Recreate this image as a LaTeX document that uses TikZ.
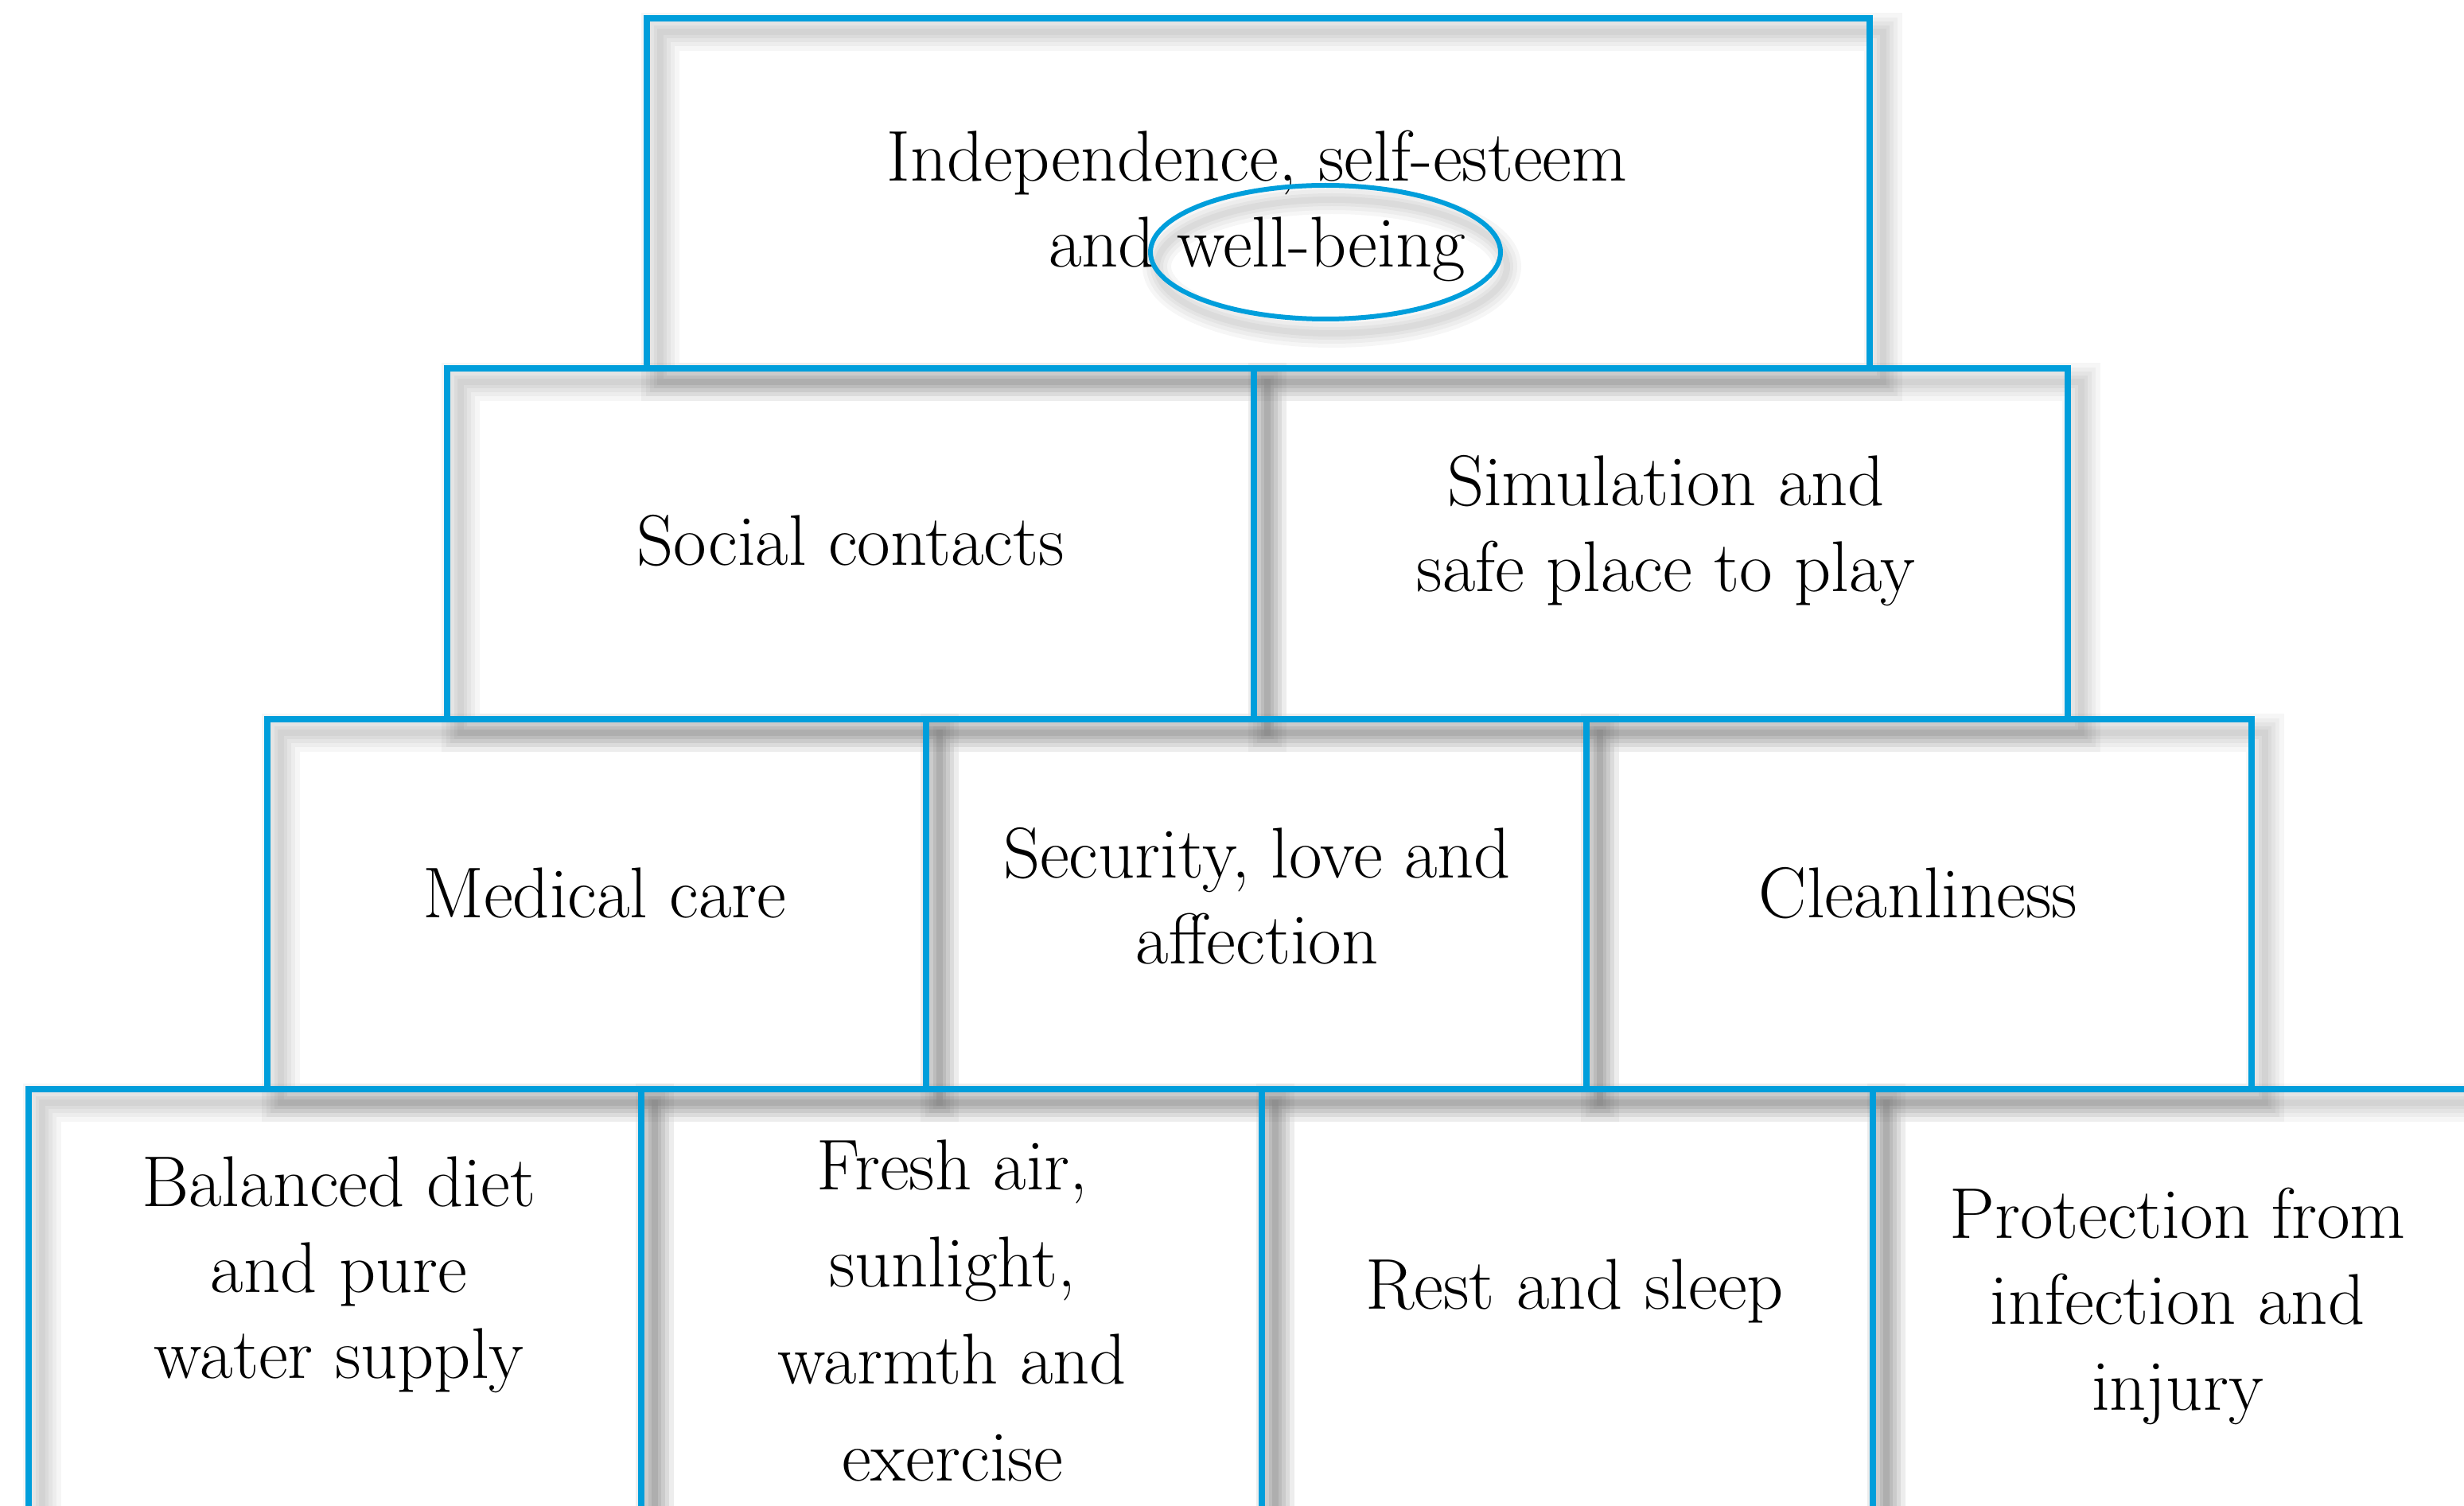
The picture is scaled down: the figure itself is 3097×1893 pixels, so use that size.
\documentclass[tikz,border=0pt]{standalone}
\usetikzlibrary{fit,shapes.geometric}
\definecolor{boxblue}{RGB}{0,158,219}
\pgfdeclarelayer{bg}
\pgfdeclarelayer{shadow}
\pgfsetlayers{bg,shadow,main}
\tikzset{
  tier/.style={rectangle, draw=boxblue, line width=2pt, inner sep=0pt, outer sep=0pt},
  txt/.style={align=center, inner sep=0pt, text=black, font=\fontsize{22.6}{27}\selectfont},
  ring/.style={ellipse, draw=boxblue, line width=1.5pt, inner sep=0pt, minimum width=110pt, minimum height=42pt},
  shadowpass/.style={black, draw opacity=0.034, line width=#1}
}
\begin{document}
\begin{tikzpicture}[x={(0.25pt,0)}, y={(0,-0.25pt)}]
\useasboundingbox (0,0) rectangle (3097,1893);
\clip (0,0) rectangle (3097,1893);
\begin{pgfonlayer}{bg}
\fill[white] (0,0) rectangle (3097,1893);
\end{pgfonlayer}

% boxes
\node[tier, fit={(813,23) (2350,463)}] (top) {};
\node[tier, fit={(562,463) (1576,904)}] (sa) {};
\node[tier, fit={(1576,463) (2599,904)}] (sb) {};
\node[tier, fit={(336,904) (1164,1369)}] (ma) {};
\node[tier, fit={(1164,904) (1994,1369)}] (mb) {};
\node[tier, fit={(1994,904) (2830,1369)}] (mc) {};
\node[tier, fit={(36,1369) (806,2000)}] (ba) {};
\node[tier, fit={(806,1369) (1586,2000)}] (bb) {};
\node[tier, fit={(1586,1369) (2354,2000)}] (bc) {};
\node[tier, fit={(2354,1369) (3140,2000)}] (bd) {};

% texts
\node[txt] (ttop) at (1580,259) {Independence, self-esteem\\and well-being};
\node[txt, anchor=base] (tsa) at (1069,711) {Social contacts};
\node[txt] (tsb) at (2094,667) {Simulation and\\safe place to play};
\node[txt, anchor=base] (tma) at (760,1153) {Medical care};
\node[txt] (tmb) at (1580,1126) {Security, love and\\affection};
\node[txt, anchor=base] (tmc) at (2411,1153) {Cleanliness};
\node[txt] (tba) at (426,1602) {Balanced diet\\and pure\\water supply};
\node[txt, font=\fontsize{22.6}{30.5}\selectfont] (tbb) at (1197,1647) {Fresh air,\\sunlight,\\warmth and\\exercise};
\node[txt, anchor=base] (tbc) at (1979,1645) {Rest and sleep};
\node[txt] (tbd) at (2737,1642) {Protection from\\infection and\\injury};

% highlight ring
\node[ring] (wb) at (1666,317) {};

% soft shadows
\begin{pgfonlayer}{shadow}
\foreach \n in {top,sa,sb,ma,mb,mc,ba,bb,bc,bd}{
  \foreach \w in {12,9,6.5,4,2}{
    \draw[shadowpass=\w pt] ([shift={(17,17)}]\n.north west) rectangle ([shift={(17,17)}]\n.south east);
  }
}
\foreach \w in {9,6.5,4,2}{
  \draw[shadowpass=\w pt] ([shift={(8,18)}]wb.center) ellipse [x radius=220, y radius=84];
}
\end{pgfonlayer}
\end{tikzpicture}
\end{document}
